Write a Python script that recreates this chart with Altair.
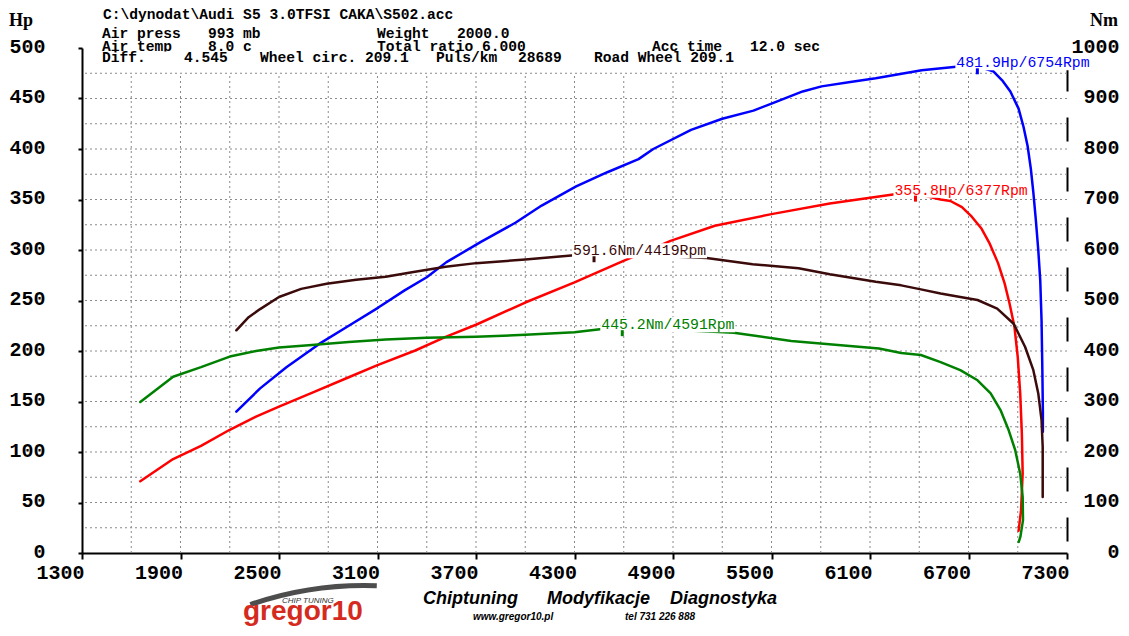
import altair as alt
import pandas as pd

# ---------------- data ----------------
# Power curve 2 (blue, Hp)
blue_rpm = [2240, 2385, 2545, 2745, 2925, 3105, 3265, 3400, 3520, 3730, 3940, 4100, 4310, 4500, 4690,
            4780, 5010, 5200, 5390, 5500, 5690, 5805, 5970, 6135, 6275, 6415, 6625, 6754, 6850, 6905,
            6955, 7005, 7035, 7060, 7080, 7095, 7110, 7125, 7137, 7145, 7150, 7153, 7153]
blue_hp = [140, 163, 184, 207, 225, 243, 260, 273, 288, 308, 327, 344, 363, 377, 390,
           400, 419, 430, 438, 445, 457, 462, 466, 470, 474, 478, 481.5, 481.9, 477, 468,
           457, 440, 422, 403, 380, 357, 330, 300, 270, 230, 180, 140, 120]

# Power curve 1 (red, Hp)
red_rpm = [1655, 1855, 2025, 2200, 2360, 2500, 2700, 2925, 3100, 3330, 3515, 3700, 4000, 4300, 4595,
           4885, 5155, 5500, 5855, 6240, 6377, 6530, 6590, 6660, 6720, 6780, 6830, 6880, 6920, 6950,
           6980, 7000, 7015, 7025, 7030, 7020, 7005]
red_hp = [71, 93, 106, 122, 135, 145, 158.5, 174, 186, 200.5, 214, 226, 248, 268, 289,
          309, 324, 335.5, 346, 355, 355.8, 350, 348.5, 342.5, 333, 321, 306, 287, 267, 247,
          224, 194, 158, 118, 79, 42, 22]

# Torque curve 2 (dark brown, Nm)
brown_rpm = [2240, 2315, 2385, 2500, 2635, 2790, 2970, 3150, 3310, 3515, 3700, 4000, 4280, 4419, 4700,
             5105, 5385, 5665, 5855, 6135, 6290, 6410, 6530, 6650, 6755, 6875, 6975, 7045, 7095, 7125,
             7145, 7152, 7152]
brown_nm = [441, 467, 483, 507, 523, 533, 541, 547, 556, 567, 574, 581, 589, 591.6, 590,
            584, 572, 564, 552, 537, 530, 522, 514, 507, 501, 484, 454, 408, 362, 316,
            263, 210, 111]

# Torque curve 1 (green, Nm)
green_rpm = [1655, 1855, 2025, 2200, 2360, 2500, 2700, 2925, 3150, 3400, 3700, 4000, 4300, 4455, 4591,
             4900, 5270, 5620, 6155, 6290, 6410, 6530, 6650, 6755, 6835, 6895, 6945, 6985, 7015, 7030,
             7032, 7016, 7006]
green_nm = [299, 349, 368, 389, 400, 407, 412, 418, 423, 426, 428, 432, 437, 443, 445.2,
            442, 436, 420, 405, 396, 392, 378, 362, 342, 316, 283, 243, 203, 157, 111,
            65, 32, 22]

# peak annotations
power_peak_series = ["P2", "P1"]
power_peak_rpm = [6754, 6377]
power_peak_val = [481.9, 355.8]
torque_peak_series = ["T2", "T1"]
torque_peak_rpm = [4419, 4591]
torque_peak_val = [591.6, 445.2]

series_names = ["P2", "P1", "T2", "T1"]
series_colors = ["#0000ff", "#ff0000", "#3b0a0a", "#008000"]

# axis ticks / grid
x_ticks = list(range(1300, 7301, 600))
x_grid = list(range(1600, 7001, 300))
hp_ticks = list(range(0, 501, 50))
hp_grid = list(range(25, 476, 25))
nm_ticks = list(range(0, 1001, 100))

# header texts
header_title = "C:\\dynodat\\Audi S5 3.0TFSI CAKA\\S502.acc"
header_row1 = ["Air press", "993 mb", "Weight", "2000.0"]
header_row2 = ["Air temp", "8.0 c", "Total ratio 6.000", "Acc time", "12.0 sec"]
header_row3 = ["Diff.", "4.545", "Wheel circ. 209.1", "Puls/km", "28689", "Road Wheel 209.1"]
row1_x = [20, 126, 295, 375]
row2_x = [20, 126, 295, 570, 668]
row3_x = [20, 102, 178, 354, 436, 512]
footer_words = ["Chiptuning", "Modyfikacje", "Diagnostyka"]
footer_x = [341, 465, 588]
footer_small = ["www.gregor10.pl", "tel 731 226 888"]
footer_small_x = [391, 543]

# ---------------- build tables ----------------
def long_df(pairs):
    rows = []
    for name, xs, ys in pairs:
        for i, (a, b) in enumerate(zip(xs, ys)):
            rows.append({"series": name, "rpm": a, "v": b, "i": i})
    return pd.DataFrame(rows)

power_df = long_df([("P2", blue_rpm, blue_hp), ("P1", red_rpm, red_hp)])
torque_df = long_df([("T2", brown_rpm, brown_nm), ("T1", green_rpm, green_nm)])

power_peaks = pd.DataFrame({"series": power_peak_series, "rpm": power_peak_rpm, "v": power_peak_val})
power_peaks["label"] = [f"{v}Hp/{r}Rpm" for v, r in zip(power_peak_val, power_peak_rpm)]
torque_peaks = pd.DataFrame({"series": torque_peak_series, "rpm": torque_peak_rpm, "v": torque_peak_val})
torque_peaks["label"] = [f"{v}Nm/{r}Rpm" for v, r in zip(torque_peak_val, torque_peak_rpm)]

hgrid_df = pd.DataFrame({"v": hp_grid})
vgrid_df = pd.DataFrame({"rpm": x_grid, "v": [0] * len(x_grid), "v2": [475] * len(x_grid)})

MONO = "Liberation Mono"

X = alt.X("rpm:Q", scale=alt.Scale(domain=[1300, 7300], nice=False, zero=False),
          axis=alt.Axis(values=x_ticks, format="d", title=None, grid=False, tickSize=6, tickWidth=2,
                        tickColor="black", domainColor="black", domainWidth=2,
                        labelFont=MONO, labelFontWeight="bold", labelFontSize=20,
                        labelColor="black", labelAlign="right", labelOffset=2, labelPadding=3,
                        labelFlush=False, labelOverlap=False))
YP = alt.Y("v:Q", scale=alt.Scale(domain=[0, 500], nice=False, zero=True),
           axis=alt.Axis(values=hp_ticks, format="d", orient="left", title=None, grid=False, tickSize=4,
                         tickWidth=2, tickColor="black", domainColor="black", domainWidth=2,
                         labelFont=MONO, labelFontWeight="bold", labelFontSize=20,
                         labelColor="black", labelPadding=33, labelOffset=-2,
                         labelFlush=False, labelOverlap=False))
YT = alt.Y("v:Q", scale=alt.Scale(domain=[0, 1000], nice=False, zero=True),
           axis=alt.Axis(values=nm_ticks, format="d", orient="right", title=None, grid=False, ticks=False,
                         tickSize=0, domainColor="black", domainWidth=2,
                         domainDash=[24, 26], domainDashOffset=38,
                         labelFont=MONO, labelFontWeight="bold", labelFontSize=20,
                         labelColor="black", labelAlign="right", labelPadding=52, labelOffset=-2,
                         labelFlush=False, labelOverlap=False))
COLOR = alt.Color("series:N", scale=alt.Scale(domain=series_names, range=series_colors), legend=None)

GRID_STYLE = dict(color="#8a8a8a", strokeWidth=1, strokeDash=[2, 3])

hgrid = alt.Chart(hgrid_df).mark_rule(**GRID_STYLE).encode(y=YP)
vgrid = alt.Chart(vgrid_df).mark_rule(**GRID_STYLE).encode(x=X, y=YP, y2=alt.Y2("v2"))

def curve_layers(df, peaks, Y):
    lines = alt.Chart(df).mark_line(strokeWidth=2.5, strokeJoin="round", strokeCap="round").encode(
        x=X, y=Y, color=COLOR, order=alt.Order("i:Q"), detail="series:N")
    rect = alt.Chart(peaks).mark_rect(color="white", xOffset=-22, x2Offset=113,
                                      yOffset=-11, y2Offset=4).encode(
        x=X, x2=alt.X2("rpm"), y=Y, y2=alt.Y2("v"))
    tick = alt.Chart(peaks).mark_rule(strokeWidth=3, yOffset=2, y2Offset=8).encode(
        x=X, y=Y, y2=alt.Y2("v"), color=COLOR)
    text = alt.Chart(peaks).mark_text(align="left", baseline="middle", dx=-21, dy=-3,
                                      font=MONO, fontSize=14.8).encode(
        x=X, y=Y, text="label:N", color=COLOR)
    return [lines, rect, tick, text]

power_group = alt.layer(hgrid, vgrid, *curve_layers(power_df, power_peaks, YP))
torque_group = alt.layer(*curve_layers(torque_df, torque_peaks, YT))

dummy = pd.DataFrame({"d": [0]})

def txt(s, x, y, size, font, weight="normal", style="normal", color="black", align="left"):
    return alt.Chart(dummy).mark_text(text=s, font=font, fontSize=size, fontWeight=weight,
                                      fontStyle=style, color=color, align=align,
                                      baseline="middle").encode(x=alt.value(x), y=alt.value(y))

annot = []
annot.append(txt(header_title, 21, -33, 14.6, MONO, "bold"))
for s, x in zip(header_row1, row1_x):
    annot.append(txt(s, x, -14, 14.6, MONO, "bold"))
for s, x in zip(header_row2, row2_x):
    annot.append(txt(s, x, -1, 14.6, MONO, "bold"))
annot.append(alt.Chart(dummy).mark_rect(color="white").encode(
    x=alt.value(18), x2=alt.value(658), y=alt.value(3.5), y2=alt.value(17)))
for s, x in zip(header_row3, row3_x):
    annot.append(txt(s, x, 10, 14.6, MONO, "bold"))
annot.append(txt("Hp", -73, -27, 18, "Liberation Serif", "bold"))
annot.append(txt("Nm", 1036, -27, 18, "Liberation Serif", "bold", align="right"))
for s, x in zip(footer_words, footer_x):
    annot.append(txt(s, x, 551, 18, "Liberation Sans", "bold", "italic"))
for s, x in zip(footer_small, footer_small_x):
    annot.append(txt(s, x, 569, 10, "Liberation Sans", "bold", "italic"))
# logo (text approximation)
annot.append(alt.Chart(dummy).mark_arc(radius=350, radius2=345, theta=5.95, theta2=6.32,
                                       color="#4d4d4d").encode(x=alt.value(282), y=alt.value(885)))
annot.append(txt("CHIP TUNING", 200, 553, 8, "Liberation Sans", "normal", "italic", "#333333"))
annot.append(txt("gregor10", 161, 564, 28, "Liberation Sans", "bold", "normal", "#d52b1e"))

chart = alt.layer(power_group, torque_group, *annot).resolve_scale(y="independent").properties(
    width=985, height=505,
    padding={"left": 74, "top": 40, "right": 54, "bottom": 75},
    autosize=alt.AutoSizeParams(type="none"),
    background="white",
).configure_view(stroke="transparent")

chart.save("out.html", embed_options={"renderer": "svg", "actions": False})
